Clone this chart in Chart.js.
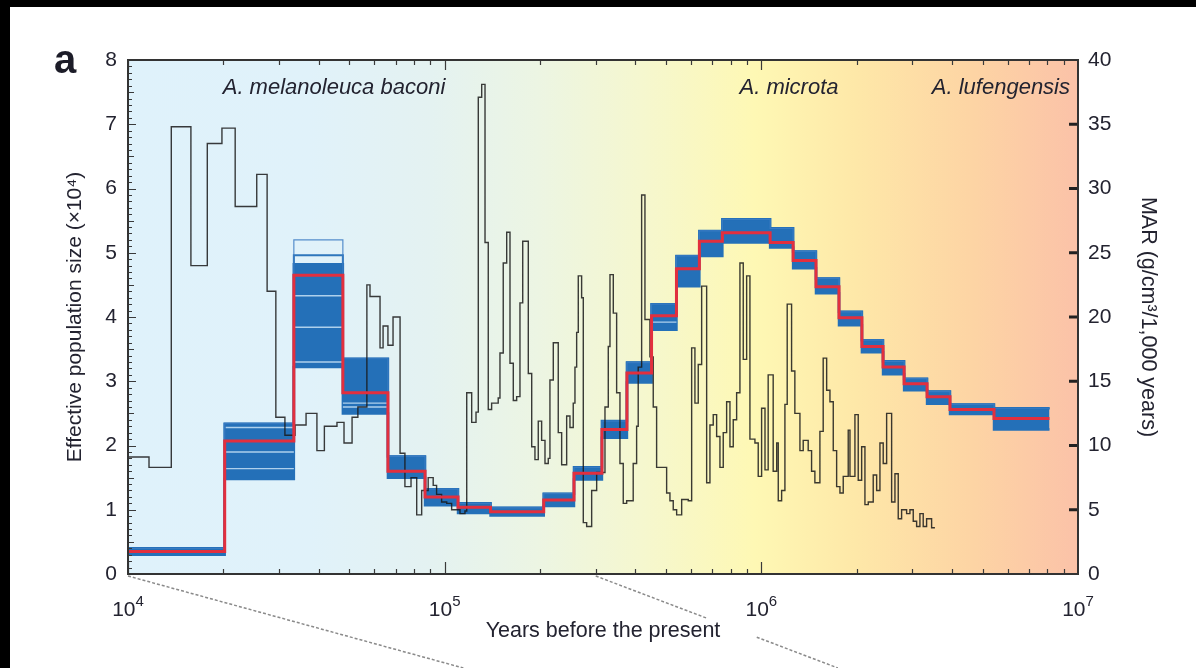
<!DOCTYPE html>
<html>
<head>
<meta charset="utf-8">
<script src="https://cdn.jsdelivr.net/npm/chart.js@4.4.1/dist/chart.umd.min.js"></script>
<style>
html, body { margin: 0; padding: 0; background: #000; }
#wrap { position: absolute; left: 10px; top: 7px; width: 1186px; height: 661px; background: #fff; }
</style>
</head>
<body>
<div id="wrap"><canvas id="chart"></canvas></div>
<script>
// PSMC steps (years before present, Ne x 10^4); last value repeats to close the final step
var psmcYears = [10000, 20200, 33400, 47700, 66200, 86700, 110200, 139600, 205500, 256100, 313800, 376400, 450100, 539500, 637300, 753200, 1066000, 1260000, 1488000, 1759000, 2078000, 2423000, 2824000, 3337000, 3943000, 5430000, 8128000];
var psmcNe = [0.35, 2.07, 4.65, 2.82, 1.6, 1.2, 1.04, 0.97, 1.15, 1.57, 2.25, 3.13, 4.02, 4.75, 5.18, 5.31, 5.16, 4.88, 4.47, 3.99, 3.54, 3.22, 2.96, 2.76, 2.56, 2.42, 2.42];

// bootstrap spread around the PSMC curve
var bootUpper = [0.4, 2.34, 4.82, 3.35, 1.83, 1.32, 1.1, 1.03, 1.25, 1.66, 2.38, 3.29, 4.2, 4.95, 5.34, 5.52, 5.38, 5.02, 4.6, 4.08, 3.64, 3.31, 3.04, 2.84, 2.64, 2.58, 2.58];
var bootLower = [0.3, 1.48, 3.22, 2.5, 1.5, 1.07, 0.95, 0.91, 1.06, 1.47, 2.12, 2.98, 3.8, 4.48, 4.95, 5.16, 5.08, 4.76, 4.37, 3.87, 3.45, 3.11, 2.86, 2.65, 2.49, 2.25, 2.25];
var bootHigh = [0.4, 2.34, 5.2, 3.35, 1.83, 1.32, 1.1, 1.03, 1.25, 1.66, 2.38, 3.29, 4.2, 4.95, 5.34, 5.52, 5.38, 5.02, 4.6, 4.08, 3.64, 3.31, 3.04, 2.84, 2.64, 2.58, 2.58];
var bootHigh2 = [0.4, 2.34, 4.96, 3.35, 1.83, 1.32, 1.1, 1.03, 1.25, 1.66, 2.38, 3.29, 4.2, 4.95, 5.34, 5.52, 5.38, 5.02, 4.6, 4.08, 3.64, 3.31, 3.04, 2.84, 2.64, 2.58, 2.58];

// pale single bootstrap rounds visible inside the band
var stripeFrom = [20200, 20200, 20200, 33400, 33400, 33400, 47700, 47700, 450100];
var stripeTo = [33400, 33400, 33400, 47700, 47700, 47700, 66200, 66200, 539500];
var stripeNe = [2.28, 1.9, 1.64, 4.33, 3.84, 3.3, 2.66, 2.6, 3.92];

// mass accumulation rate (g/cm3/1,000 years)
var marYears = [10000, 11650, 13700, 15800, 17800, 19800, 21800, 25500, 27500, 29300,
  31300, 33700, 36500, 39500, 41700, 45700, 48100, 51000, 53200, 56800,
  58100, 62500, 63900, 66200, 68700, 72300, 74900, 78300, 81600, 84600,
  88700, 92000, 94300, 97800, 101500, 105200, 111800, 115900, 117400, 121700,
  125600, 127700, 130900, 134100, 137300, 140700, 147600, 149500, 153100, 157000,
  160800, 164700, 168800, 172900, 176400, 183700, 188300, 192800, 197500, 202400,
  207400, 212400, 215000, 220300, 228400, 234100, 242800, 248700, 254700, 257900,
  261100, 264200, 270700, 274000, 280800, 291200, 302000, 320800, 328600, 332700,
  340800, 349200, 357700, 366400, 375600, 393900, 403800, 408500, 418800, 429000,
  444800, 455700, 467000, 502300, 514500, 527000, 540200, 560300, 587800, 602500,
  617000, 632100, 647900, 671900, 688200, 704900, 722500, 740100, 758100, 777000,
  796000, 815300, 835600, 855900, 876800, 898700, 920400, 954500, 977700, 1002000,
  1027000, 1051000, 1090000, 1118000, 1131000, 1159000, 1187000, 1207000, 1246000, 1276000,
  1324000, 1356000, 1406000, 1441000, 1476000, 1531000, 1568000, 1608000, 1647000, 1687000,
  1729000, 1771000, 1814000, 1881000, 1905000, 1975000, 2023000, 2074000, 2124000, 2176000,
  2256000, 2313000, 2369000, 2426000, 2487000, 2579000, 2642000, 2706000, 2773000, 2876000,
  2946000, 3018000, 3093000, 3168000, 3245000, 3326000, 3449000, 3533000];
var marValues = [9.1, 8.3, 34.8, 24.0, 33.5, 34.7, 28.6, 31.1, 22.0, 12.2,
  10.8, 11.6, 12.5, 9.6, 11.5, 11.8, 10.2, 12.2, 13.0, 22.5,
  21.6, 17.6, 19.3, 17.8, 20.0, 9.4, 6.8, 7.5, 4.6, 6.5,
  7.5, 6.9, 6.2, 5.6, 5.5, 5.0, 4.7, 4.9, 14.1, 11.8,
  12.6, 37.1, 38.1, 25.8, 12.8, 13.3, 13.7, 17.2, 24.2, 26.6,
  16.4, 13.5, 13.8, 21.1, 25.9, 15.6, 9.9, 8.9, 11.9, 10.4,
  8.6, 9.0, 15.1, 18.0, 11.0, 8.5, 12.3, 11.4, 13.3, 16.1,
  18.8, 23.2, 21.5, 4.0, 3.7, 6.5, 7.9, 13.0, 17.7, 23.3,
  20.3, 14.1, 8.6, 5.5, 5.7, 8.6, 11.5, 16.1, 29.5, 19.8,
  16.9, 13.0, 8.3, 6.3, 5.7, 5.0, 4.6, 5.8, 5.7, 17.6,
  13.3, 16.3, 22.4, 7.1, 11.6, 12.4, 10.7, 8.3, 11.0, 13.4,
  9.9, 12.0, 14.1, 24.2, 16.7, 23.2, 10.5, 10.2, 7.6, 12.9,
  8.1, 15.5, 8.0, 10.2, 5.7, 6.5, 13.2, 21.0, 15.8, 12.5,
  9.6, 10.4, 9.6, 8.0, 7.1, 11.1, 16.8, 14.3, 13.4, 9.6,
  6.8, 6.3, 7.6, 11.2, 7.6, 12.4, 7.3, 9.9, 5.4, 5.6,
  7.7, 6.5, 10.2, 8.6, 12.5, 5.6, 7.8, 4.3, 5.0, 4.7,
  5.0, 4.1, 3.7, 4.7, 3.7, 4.3, 3.6, 3.6];

var decadeTicks = [1e4, 1e5, 1e6, 1e7];
var speciesNames = ["A. melanoleuca baconi", "A. microta", "A. lufengensis"];

var FONT = '"Liberation Sans", Arial, Helvetica, sans-serif';
var INK = '#232330';
var BLUE = '#2470b8';

function toPoints(xs, ys) {
  return xs.map(function (x, i) { return {x: x, y: ys[i]}; });
}

var stripePoints = [];
stripeFrom.forEach(function (x0, i) {
  stripePoints.push({x: x0, y: stripeNe[i]}, {x: stripeTo[i], y: stripeNe[i]}, {x: stripeTo[i], y: null});
});

var decor = {
  id: 'decor',
  beforeDraw: function (chart) {
    var a = chart.chartArea, ctx = chart.ctx;
    var g = ctx.createLinearGradient(a.left, 0, a.right, 0);
    g.addColorStop(0, '#dff2fb');
    g.addColorStop(0.19, '#e0f2fa');
    g.addColorStop(0.32, '#e4f2f1');
    g.addColorStop(0.43, '#ecf5e3');
    g.addColorStop(0.54, '#f5f7cf');
    g.addColorStop(0.66, '#fef8b4');
    g.addColorStop(0.765, '#fee8a8');
    g.addColorStop(0.89, '#fdd4a4');
    g.addColorStop(1, '#fbc2a8');
    ctx.save();
    ctx.fillStyle = g;
    ctx.fillRect(a.left, a.top, a.right - a.left, a.bottom - a.top);
    ctx.restore();
  },
  afterDatasetsDraw: function (chart) {
    var a = chart.chartArea, ctx = chart.ctx;
    var x = chart.scales.x, y = chart.scales.y, y2 = chart.scales.y2;
    ctx.save();
    ctx.strokeStyle = '#3a3a3a';
    ctx.lineWidth = 1.2;
    ctx.beginPath();
    for (var k = 0; k <= 80; k++) {
      var py = Math.round(y.getPixelForValue(k / 10)) + 0.5;
      var len = k % 10 === 0 ? 8 : (k % 5 === 0 ? 6 : 4);
      ctx.moveTo(a.left, py); ctx.lineTo(a.left + len, py);
    }
    decadeTicks.slice(0, 3).forEach(function (d) {
      for (var m = 1; m <= 9; m++) {
        var px = Math.round(x.getPixelForValue(m * d)) + 0.5;
        var lb = m === 1 ? 12 : 5, lt = m === 1 ? 10 : 5;
        ctx.moveTo(px, a.bottom); ctx.lineTo(px, a.bottom - lb);
        ctx.moveTo(px, a.top); ctx.lineTo(px, a.top + lt);
      }
    });
    ctx.stroke();
    ctx.lineWidth = 3;
    ctx.strokeStyle = '#222';
    ctx.beginPath();
    for (var v = 5; v < 40; v += 5) {
      var ry = y2.getPixelForValue(v);
      ctx.moveTo(a.right - 9, ry); ctx.lineTo(a.right, ry);
    }
    ctx.stroke();
    ctx.lineWidth = 2;
    ctx.strokeStyle = '#333';
    ctx.strokeRect(a.left, a.top, a.right - a.left, a.bottom - a.top);
    ctx.restore();
  },
  afterDraw: function (chart) {
    var a = chart.chartArea, ctx = chart.ctx, x = chart.scales.x;
    ctx.save();
    // x tick labels with real exponents
    ctx.fillStyle = INK;
    ctx.textBaseline = 'alphabetic';
    decadeTicks.forEach(function (v) {
      var px = x.getPixelForValue(v);
      var exp = String(Math.round(Math.log10(v)));
      ctx.font = '21px ' + FONT;
      var w1 = ctx.measureText('10').width;
      ctx.font = '15px ' + FONT;
      var w2 = ctx.measureText(exp).width;
      var left = px - (w1 + w2) / 2;
      ctx.font = '21px ' + FONT;
      ctx.fillText('10', left, a.bottom + 42);
      ctx.font = '15px ' + FONT;
      ctx.fillText(exp, left + w1, a.bottom + 32);
    });
    // species names
    ctx.font = 'italic 22px ' + FONT;
    ctx.textAlign = 'center';
    ctx.fillText(speciesNames[0], a.left + 206, a.top + 34);
    ctx.fillText(speciesNames[1], a.left + 661, a.top + 34);
    ctx.textAlign = 'right';
    ctx.fillText(speciesNames[2], a.right - 8, a.top + 34);
    // panel letter
    ctx.textAlign = 'left';
    ctx.fillStyle = '#1c1c28';
    ctx.font = 'bold 40px ' + FONT;
    ctx.fillText('a', 44, 66);
    // dashed guides to the next panel
    ctx.strokeStyle = '#8a8a8a';
    ctx.lineWidth = 1.5;
    ctx.setLineDash([3, 2]);
    var h = chart.height;
    var x1 = x.getPixelForValue(1e4), y0 = a.bottom + 2;
    ctx.beginPath();
    ctx.moveTo(x1, y0);
    ctx.lineTo(x1 + (h - y0) * 3.645, h);
    var x3 = x.getPixelForValue(3e5);
    ctx.moveTo(x3, y0);
    ctx.lineTo(x3 + 112, y0 + 112 * 0.38);
    ctx.moveTo(x3 + 161, y0 + 161 * 0.38);
    ctx.lineTo(x3 + (h - y0) / 0.38, h);
    ctx.stroke();
    ctx.restore();
  }
};

Chart.defaults.font.family = FONT;
Chart.defaults.color = INK;

new Chart('chart', {
  type: 'line',
  data: {
    datasets: [
      {data: toPoints(psmcYears, bootUpper), borderColor: BLUE, borderWidth: 2.5, order: 5, fill: false},
      {data: toPoints(psmcYears, bootLower), borderColor: BLUE, borderWidth: 2.5, order: 5,
        fill: 0, backgroundColor: BLUE},
      {data: toPoints(psmcYears, bootHigh), borderColor: 'rgba(60,125,195,0.85)', borderWidth: 1.2, order: 4},
      {data: toPoints(psmcYears, bootHigh2), borderColor: 'rgba(36,112,184,0.95)', borderWidth: 2, order: 4},
      {data: stripePoints, borderColor: 'rgba(190,218,242,0.9)', borderWidth: 1.4, order: 4, spanGaps: false},
      {data: toPoints(marYears, marValues), yAxisID: 'y2', borderColor: 'rgba(25,25,25,0.85)', borderWidth: 1.4, order: 2},
      {data: toPoints(psmcYears, psmcNe), borderColor: '#e22f3e', borderWidth: 3, order: 1}
    ]
  },
  options: {
    responsive: true,
    maintainAspectRatio: false,
    devicePixelRatio: 1,
    animation: false,
    layout: {padding: {top: 53, left: 0, right: 0, bottom: 0}},
    elements: {
      point: {radius: 0},
      line: {stepped: true, tension: 0, fill: false}
    },
    plugins: {legend: {display: false}, tooltip: {enabled: false}},
    scales: {
      x: {
        type: 'logarithmic', min: 1e4, max: 1e7, position: 'bottom',
        grid: {display: false, drawTicks: false}, border: {display: false},
        ticks: {display: false},
        afterBuildTicks: function (s) { s.ticks = decadeTicks.map(function (v) { return {value: v}; }); },
        afterFit: function (s) { s.height = 94; },
        title: {display: true, text: 'Years before the present', font: {size: 21.5}, color: INK,
          padding: {top: 0, bottom: 24}}
      },
      y: {
        min: 0, max: 8, position: 'left',
        grid: {display: false, drawTicks: false}, border: {display: false},
        ticks: {stepSize: 1, font: {size: 21}, color: INK, padding: 11},
        afterFit: function (s) { s.width = 118; },
        title: {display: true, text: 'Effective population size (×10⁴)', font: {size: 21}, color: INK,
          padding: {top: 53, bottom: 0}}
      },
      y2: {
        min: 0, max: 40, position: 'right',
        grid: {display: false, drawTicks: false}, border: {display: false},
        ticks: {stepSize: 5, font: {size: 21}, color: INK, padding: 10},
        afterFit: function (s) { s.width = 118; },
        title: {display: true, text: 'MAR (g/cm³/1,000 years)', font: {size: 21.5}, color: INK,
          padding: {top: 35, bottom: 0}}
      }
    }
  },
  plugins: [decor]
});
</script>
</body>
</html>
